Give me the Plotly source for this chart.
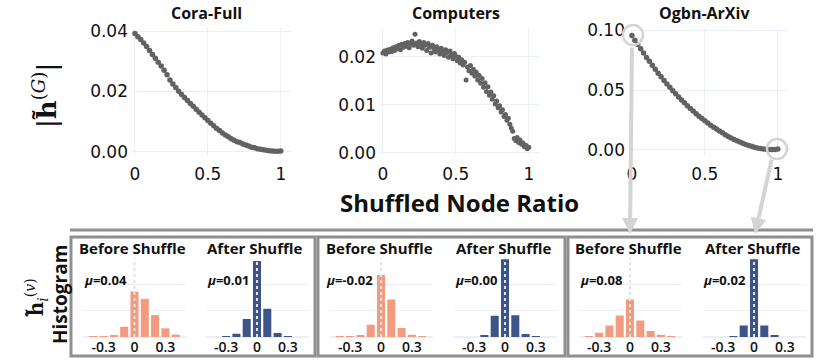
import plotly.graph_objects as go

W, H = 831, 361

# ---------- top row: |h~(G)| against shuffled node ratio ----------
ratio = [0.00, 0.02, 0.04, 0.06, 0.08, 0.10, 0.12, 0.14, 0.16, 0.18,
         0.20, 0.22, 0.24, 0.26, 0.28, 0.30, 0.32, 0.34, 0.36, 0.38,
         0.40, 0.42, 0.44, 0.46, 0.48, 0.50, 0.52, 0.54, 0.56, 0.58,
         0.60, 0.62, 0.64, 0.66, 0.68, 0.70, 0.72, 0.74, 0.76, 0.78,
         0.80, 0.82, 0.84, 0.86, 0.88, 0.90, 0.92, 0.94, 0.96, 0.98, 1.00]

cora_h = [0.0392, 0.0381, 0.0372, 0.0360, 0.0349, 0.0336, 0.0322, 0.0310, 0.0297, 0.0284,
          0.0270, 0.0255, 0.0238, 0.0225, 0.0213, 0.0201, 0.0190, 0.0180, 0.0170, 0.0160,
          0.0151, 0.0141, 0.0131, 0.0122, 0.0113, 0.0104, 0.0095, 0.0087, 0.0078, 0.0071,
          0.0063, 0.0056, 0.0050, 0.0044, 0.0039, 0.0034, 0.0031, 0.0026, 0.0023, 0.0020,
          0.0016, 0.0014, 0.0011, 0.0009, 0.0007, 0.0006, 0.0004, 0.0003, 0.0002, 0.0002, 0.0003]

ogbn_h = [0.0955, 0.0915, 0.0880, 0.0845, 0.0808, 0.0772, 0.0740, 0.0706, 0.0672, 0.0640,
          0.0610, 0.0580, 0.0551, 0.0522, 0.0494, 0.0468, 0.0442, 0.0417, 0.0393, 0.0368,
          0.0346, 0.0324, 0.0302, 0.0282, 0.0263, 0.0243, 0.0224, 0.0207, 0.0190, 0.0174,
          0.0158, 0.0143, 0.0127, 0.0113, 0.0100, 0.0088, 0.0077, 0.0066, 0.0056, 0.0046,
          0.0037, 0.0030, 0.0023, 0.0017, 0.0012, 0.0008, 0.0005, 0.0003, 0.0003, 0.0004, 0.0008]

computers_ratio = [0.00, 0.01, 0.02, 0.03, 0.04, 0.05, 0.06, 0.07, 0.08, 0.09,
                   0.10, 0.11, 0.12, 0.13, 0.14, 0.15, 0.16, 0.17, 0.18, 0.19,
                   0.20, 0.21, 0.22, 0.23, 0.24, 0.25, 0.26, 0.27, 0.28, 0.29,
                   0.30, 0.31, 0.32, 0.33, 0.34, 0.35, 0.36, 0.37, 0.38, 0.39,
                   0.40, 0.41, 0.42, 0.43, 0.44, 0.45, 0.46, 0.47, 0.48, 0.49,
                   0.50, 0.51, 0.52, 0.53, 0.54, 0.55, 0.56, 0.57, 0.58, 0.59,
                   0.60, 0.61, 0.62, 0.63, 0.64, 0.65, 0.66, 0.67, 0.68, 0.69,
                   0.70, 0.71, 0.72, 0.73, 0.74, 0.75, 0.76, 0.77, 0.78, 0.79,
                   0.80, 0.81, 0.82, 0.83, 0.84, 0.85, 0.86, 0.87, 0.88, 0.89,
                   0.90, 0.91, 0.92, 0.93, 0.94, 0.95, 0.96, 0.97, 0.98, 0.99, 1.00]

computers_h = [0.0208, 0.0212, 0.0206, 0.0214, 0.0210, 0.0216, 0.0211, 0.0219, 0.0213, 0.0221,
               0.0217, 0.0224, 0.0215, 0.0226, 0.0220, 0.0228, 0.0222, 0.0230, 0.0219, 0.0227,
               0.0233, 0.0224, 0.0247, 0.0229, 0.0221, 0.0232, 0.0226, 0.0218, 0.0230, 0.0224,
               0.0213, 0.0228, 0.0220, 0.0208, 0.0224, 0.0217, 0.0210, 0.0221, 0.0214, 0.0206,
               0.0218, 0.0211, 0.0203, 0.0215, 0.0209, 0.0199, 0.0212, 0.0204, 0.0196, 0.0207,
               0.0201, 0.0192, 0.0199, 0.0187, 0.0194, 0.0183, 0.0189, 0.0152, 0.0179, 0.0171,
               0.0182, 0.0166, 0.0174, 0.0160, 0.0168, 0.0152, 0.0161, 0.0145, 0.0155, 0.0137,
               0.0146, 0.0128, 0.0138, 0.0120, 0.0127, 0.0112, 0.0119, 0.0102, 0.0108, 0.0094,
               0.0098, 0.0085, 0.0090, 0.0076, 0.0080, 0.0068, 0.0072, 0.0060, 0.0052, 0.0045,
               0.0030, 0.0026, 0.0032, 0.0022, 0.0027, 0.0018, 0.0021, 0.0013, 0.0016, 0.0009, 0.0012]

# ---------- bottom row: histograms of h~_i(v) ----------
bins = [-0.4, -0.3, -0.2, -0.1, 0.0, 0.1, 0.2, 0.3, 0.4]
cora_before = [0.002, 0.005, 0.015, 0.078, 0.345, 0.290, 0.166, 0.066, 0.018]
cora_after = [0.0, 0.005, 0.025, 0.136, 0.577, 0.214, 0.030, 0.005, 0.0]
comp_before = [0.002, 0.002, 0.013, 0.093, 0.470, 0.284, 0.068, 0.018, 0.005]
comp_after = [0.0, 0.0, 0.015, 0.161, 0.590, 0.166, 0.023, 0.003, 0.0]
ogbn_before = [0.003, 0.033, 0.088, 0.163, 0.284, 0.126, 0.045, 0.018, 0.005]
ogbn_after = [0.0, 0.0, 0.005, 0.088, 0.590, 0.088, 0.008, 0.0, 0.0]
mu_values = ["0.04", "0.01", "-0.02", "0.00", "0.08", "0.02"]

datasets = ["Cora-Full", "Computers", "Ogbn-ArXiv"]

BEFORE = "#F39B7F"
AFTER = "#3C5488"
GRID = "#EBF0F8"
DOT = "#626262"
FONT = "Open Sans"


def fx(p):
    return p / W


def fy(p):
    return 1 - p / H


def sfx(k):
    return "" if k == 1 else str(k)


def label(text, x, y, size, family=FONT, angle=0):
    return dict(text=text, xref="paper", yref="paper", x=fx(x), y=fy(y),
                xanchor="center", yanchor="middle", showarrow=False, textangle=angle,
                font=dict(family=family, size=size, color="#111"))


fig = go.Figure()
layout = dict(
    width=W, height=H, autosize=False,
    margin=dict(l=0, r=0, t=0, b=0, pad=0),
    template="plotly_white",
    plot_bgcolor="white", paper_bgcolor="white",
    showlegend=False,
    font=dict(family=FONT, color="#111111"),
)

annotations = []
shapes = []

# top scatter panels
top_x_dom = [(132, 291), (380, 539), (629, 788)]
top_ranges = [[-0.001, 0.041], [-0.00042, 0.026], [-0.0042, 0.1017]]
top_ticks = [[0, 0.02, 0.04], [0, 0.01, 0.02], [0, 0.05, 0.10]]
top_series = [(ratio, cora_h), (computers_ratio, computers_h), (ratio, ogbn_h)]
title_x = [206, 456, 704]

for i, (xs, ys) in enumerate(top_series, start=1):
    fig.add_trace(go.Scatter(x=xs, y=ys, mode="markers",
                             marker=dict(color=DOT, size=5.5 if i != 2 else 5, line=dict(width=0)),
                             xaxis="x" + sfx(i), yaxis="y" + sfx(i),
                             hoverinfo="skip"))
    l, r = top_x_dom[i - 1]
    layout["xaxis" + sfx(i)] = dict(
        domain=[fx(l), fx(r)], range=[-0.02, 1.07], anchor="y" + sfx(i),
        tickvals=[0, 0.5, 1], ticktext=["0", "0.5", "1"], automargin=False,
        showgrid=True, gridcolor=GRID, zeroline=False, showline=False,
        tickfont=dict(family="DejaVu Sans", size=17, color="#111"),
        ticklabelstandoff=7,
    )
    layout["yaxis" + sfx(i)] = dict(
        domain=[fy(155), fy(28)], range=top_ranges[i - 1], anchor="x" + sfx(i),
        tickvals=top_ticks[i - 1], tickformat=".2f", automargin=False,
        showgrid=True, gridcolor=GRID, zeroline=False, showline=False,
        tickfont=dict(family="DejaVu Sans", size=17, color="#111"),
        ticklabelstandoff=3,
    )
    annotations.append(label("<b>" + datasets[i - 1] + "</b>", title_x[i - 1], 13, 16))

# histograms
hist_series = [cora_before, cora_after, comp_before, comp_after, ogbn_before, ogbn_after]
hist_zero = [134.5, 257, 381, 505, 630, 754]
for j, vals in enumerate(hist_series):
    k = j + 4
    before = j % 2 == 0
    fig.add_trace(go.Bar(x=bins, y=vals, width=0.078,
                         marker=dict(color=BEFORE if before else AFTER, line=dict(width=0)),
                         xaxis="x" + sfx(k), yaxis="y" + sfx(k), hoverinfo="skip"))
    z = hist_zero[j]
    layout["xaxis" + sfx(k)] = dict(
        domain=[fx(z - 51.5), fx(z + 51.5)], range=[-0.5, 0.5], anchor="y" + sfx(k),
        tickvals=[-0.3, 0, 0.3], ticktext=["-0.3", "0", "0.3"], automargin=False,
        showgrid=False, zeroline=False, showline=False,
        tickfont=dict(family=FONT, size=14, color="#111", weight=600),
        ticklabelstandoff=0,
    )
    layout["yaxis" + sfx(k)] = dict(
        domain=[fy(337), fy(258)], range=[0, 0.6], anchor="x" + sfx(k),
        tickvals=[0, 0.2, 0.4], showticklabels=False, automargin=False,
        showgrid=True, gridcolor=GRID, zeroline=True, zerolinecolor=GRID, showline=False,
    )
    shapes.append(dict(type="line", xref="x" + sfx(k), yref="y" + sfx(k) + " domain",
                       x0=0, x1=0, y0=0, y1=1, layer="above",
                       line=dict(color="#e2e2e2", width=2, dash="dot")))
    annotations.append(dict(text="<b><i>μ</i>=" + mu_values[j] + "</b>",
                            xref="x" + sfx(k), yref="y" + sfx(k), x=0, y=0.433,
                            xanchor="right", yanchor="middle", xshift=-6, showarrow=False,
                            font=dict(family=FONT, size=13, color="#111")))
    annotations.append(label("<b>" + ("Before Shuffle" if before else "After Shuffle") + "</b>",
                             z - 2, 248, 15))

# frames around histogram panels
FRAME = "#8f8f8f"
shapes.append(dict(type="line", xref="paper", yref="paper", x0=fx(70), x1=fx(813),
                   y0=fy(230), y1=fy(230), line=dict(color=FRAME, width=3)))
for l, r in [(71, 315), (318, 565), (568, 812)]:
    shapes.append(dict(type="rect", xref="paper", yref="paper",
                       x0=fx(l), x1=fx(r), y0=fy(356), y1=fy(237),
                       line=dict(color=FRAME, width=3)))

# circles highlighting the start and end of the Ogbn-ArXiv curve
for cx, cy in [(633, 35), (777, 149)]:
    shapes.append(dict(type="circle", xref="paper", yref="paper",
                       x0=fx(cx - 10), x1=fx(cx + 10), y0=fy(cy + 10), y1=fy(cy - 10),
                       line=dict(color="#d4d4d4", width=2.5)))

# arrows down to the histograms
for hx, hy, tx, ty in [(630, 234, 632, 46), (755, 234, 772, 158)]:
    annotations.append(dict(text="", xref="paper", yref="paper", x=fx(hx), y=fy(hy),
                            axref="pixel", ayref="pixel", ax=tx - hx, ay=ty - hy,
                            showarrow=True, arrowhead=2, arrowsize=0.8, arrowwidth=4,
                            arrowcolor="#d4d4d4", standoff=0, startstandoff=0))

# axis titles
annotations.append(label("<b>Shuffled Node Ratio</b>", 460, 203, 24))
annotations.append(label("|<b>h̃</b><sup>(<i>G</i>)</sup>|", 45, 96, 26, "DejaVu Serif", -90))
annotations.append(label("<b>Histogram</b>", 60, 295, 19, FONT, -90))
annotations.append(label("<b>h̃</b><sub><i>i</i></sub><sup>(<i>v</i>)</sup>", 36, 298, 20,
                         "DejaVu Serif", -90))

layout["annotations"] = annotations
layout["shapes"] = shapes
fig.update_layout(**layout)

fig.write_html("out.html", config={"displayModeBar": False},
               post_script="document.body.style.margin='0px';")
